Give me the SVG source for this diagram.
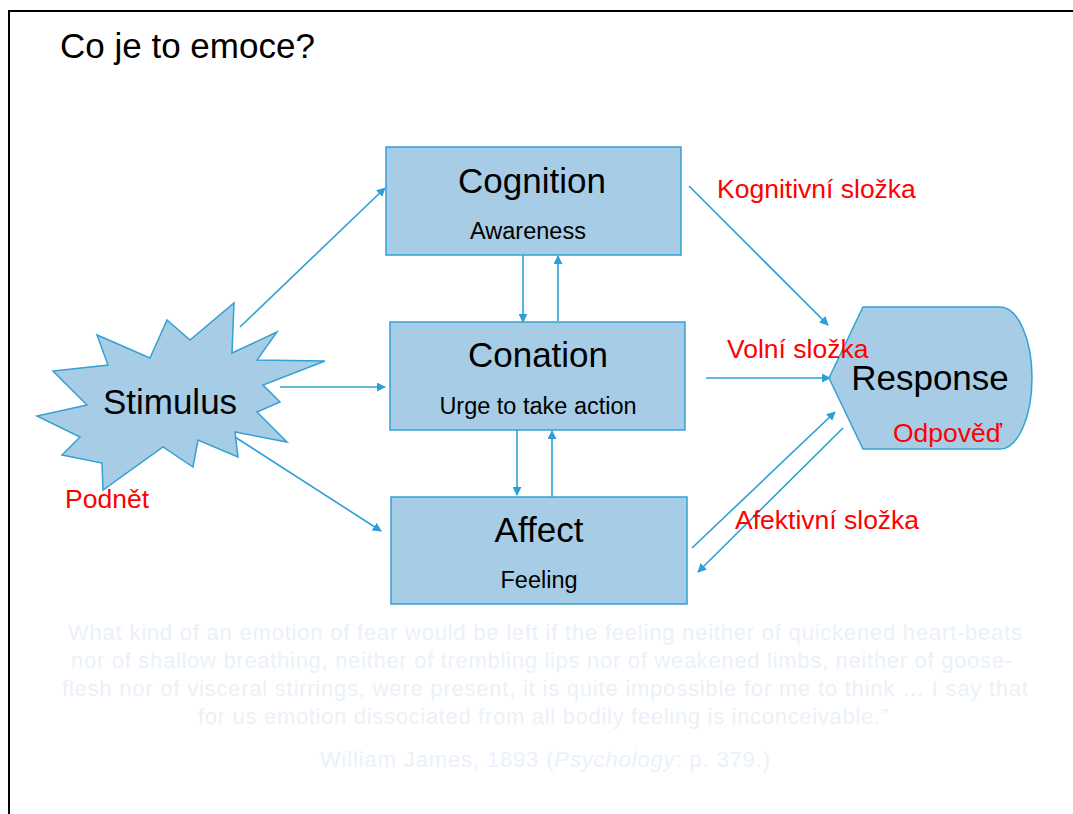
<svg xmlns="http://www.w3.org/2000/svg" width="1073" height="814" viewBox="0 0 1073 814">
<defs>
<style>
.box{fill:#a7cde6;stroke:#35a0d6;stroke-width:1.5}
.t{font-family:"Liberation Sans",Arial,sans-serif;fill:#000;text-anchor:middle}
.big{font-size:35px}
.sm{font-size:23.5px}
.red{font-family:"Liberation Sans",Arial,sans-serif;fill:#ff0000;font-size:26.5px}
.q{font-family:"Liberation Sans",Arial,sans-serif;fill:#eaf1f9;font-size:22px}
.c{stroke:#2e9fd6;stroke-width:1.6;fill:none;marker-end:url(#ah)}
</style>
<marker id="ah" viewBox="0 0 10 10" refX="9" refY="5" markerWidth="9" markerHeight="9" markerUnits="userSpaceOnUse" orient="auto">
<path d="M0,0 L10,5 L0,10 Z" fill="#2e9fd6"/>
</marker>
</defs>
<rect width="1073" height="814" fill="#fff"/>
<path d="M9,814 L9,11 L1073,11" fill="none" stroke="#000" stroke-width="2"/>
<text x="60" y="58" font-family="Liberation Sans,Arial,sans-serif" font-size="35" fill="#000">Co je to emoce?</text>

<g id="stimulus">
<polygon class="box" points="234,303 232,353 277,332 257,360 325,361 263,385 280,402 257,412 287,442 235,432 238,457 198,440 193,467 163,447 103,490 102,463 62,455 80,437 37,416 87,405 53,371 108,365 97,335 150,358 167,320 190,340"/>
<text class="t big" x="170" y="414">Stimulus</text>
<text class="red" x="65" y="508">Podnět</text>
</g>

<g id="cognition">
<rect class="box" x="386" y="147" width="295" height="108"/>
<text class="t big" x="532" y="193">Cognition</text>
<text class="t sm" x="528" y="239">Awareness</text>
</g>

<g id="conation">
<rect class="box" x="390" y="322" width="295" height="108"/>
<text class="t big" x="538" y="367">Conation</text>
<text class="t sm" x="538" y="414">Urge to take action</text>
</g>

<g id="affect">
<rect class="box" x="391" y="497" width="296" height="107"/>
<text class="t big" x="539" y="542">Affect</text>
<text class="t sm" x="539" y="588">Feeling</text>
</g>

<g id="response">
<path class="box" d="M829,378 L863,307 L1000,307 A32,71 0 0 1 1000,449 L863,449 Z"/>
<text class="t big" x="930" y="390">Response</text>
<text class="red" x="893" y="442">Odpověď</text>
</g>

<g id="connectors">
<line class="c" x1="240" y1="327" x2="385" y2="188"/>
<line class="c" x1="280" y1="387" x2="385" y2="387"/>
<line class="c" x1="235" y1="437" x2="381" y2="531"/>
<line class="c" x1="523" y1="255" x2="523" y2="322"/>
<line class="c" x1="558" y1="321" x2="558" y2="256"/>
<line class="c" x1="517" y1="430" x2="517" y2="495"/>
<line class="c" x1="552" y1="497" x2="552" y2="431"/>
<line class="c" x1="689" y1="186" x2="828" y2="325"/>
<line class="c" x1="706" y1="378" x2="830" y2="378"/>
<line class="c" x1="692" y1="548" x2="835" y2="412"/>
<line class="c" x1="843" y1="428" x2="698" y2="572"/>
</g>

<g id="labels">
<text class="red" x="717" y="198">Kognitivní složka</text>
<text class="red" x="727" y="358">Volní složka</text>
<text class="red" x="735" y="529">Afektivní složka</text>
</g>

<g id="quote">
<text class="q" x="68" y="640" textLength="954" lengthAdjust="spacing">What kind of an emotion of fear would be left if the feeling neither of quickened heart-beats</text>
<text class="q" x="71" y="668" textLength="941" lengthAdjust="spacing">nor of shallow breathing, neither of trembling lips nor of weakened limbs, neither of goose-</text>
<text class="q" x="62" y="696" textLength="966" lengthAdjust="spacing">flesh nor of visceral stirrings, were present, it is quite impossible for me to think … I say that</text>
<text class="q" x="198" y="724" textLength="690" lengthAdjust="spacing">for us emotion dissociated from all bodily feeling is inconceivable.”</text>
<text class="q" x="320" y="767" textLength="450" lengthAdjust="spacing">William James, 1893 (<tspan font-style="italic">Psychology</tspan>: p. 379.)</text>
</g>
</svg>
